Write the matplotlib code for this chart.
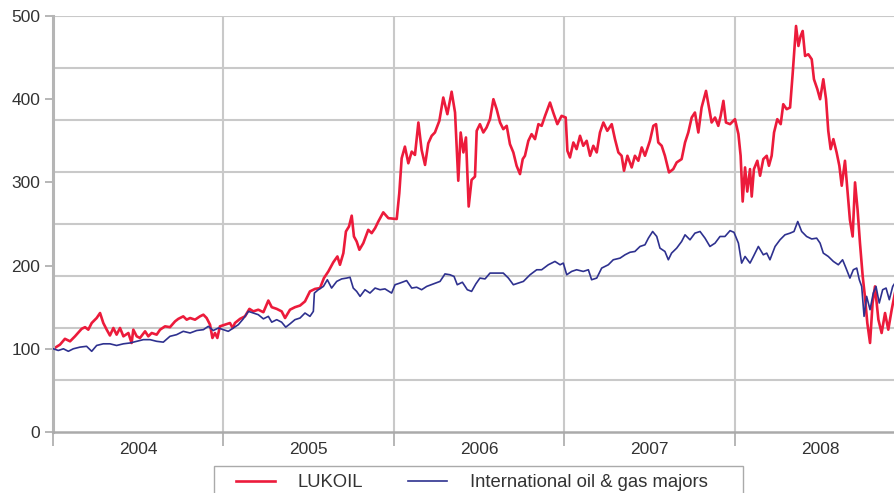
import numpy as np
import matplotlib
matplotlib.use("Agg")
from matplotlib import pyplot as plt
from matplotlib.patches import Rectangle
from matplotlib.ticker import FixedLocator, NullFormatter

# dates as decimal years, values indexed to 100 at start of 2004
lukoil_t = [2004.002, 2004.041, 2004.070, 2004.100, 2004.129, 2004.168, 2004.188, 2004.207, 2004.227, 2004.256,
            2004.276, 2004.295, 2004.315, 2004.334, 2004.354, 2004.373, 2004.393, 2004.413, 2004.442, 2004.461,
            2004.471, 2004.491, 2004.510, 2004.540, 2004.559, 2004.579, 2004.608, 2004.628, 2004.657, 2004.686,
            2004.716, 2004.735, 2004.764, 2004.784, 2004.804, 2004.833, 2004.862, 2004.882, 2004.901, 2004.921,
            2004.935, 2004.950, 2004.964, 2004.979, 2005.009, 2005.038, 2005.054, 2005.067, 2005.097, 2005.126,
            2005.152, 2005.175, 2005.204, 2005.234, 2005.263, 2005.283, 2005.312, 2005.341, 2005.361, 2005.390,
            2005.419, 2005.449, 2005.478, 2005.507, 2005.537, 2005.566, 2005.589, 2005.615, 2005.644, 2005.668,
            2005.683, 2005.703, 2005.718, 2005.736, 2005.752, 2005.765, 2005.781, 2005.797, 2005.820, 2005.849,
            2005.869, 2005.889, 2005.908, 2005.937, 2005.967, 2006.016, 2006.031, 2006.045, 2006.064, 2006.084,
            2006.104, 2006.123, 2006.143, 2006.162, 2006.182, 2006.201, 2006.221, 2006.240, 2006.266, 2006.289,
            2006.313, 2006.338, 2006.358, 2006.377, 2006.391, 2006.407, 2006.422, 2006.438, 2006.455, 2006.475,
            2006.485, 2006.504, 2006.524, 2006.543, 2006.563, 2006.583, 2006.602, 2006.622, 2006.641, 2006.661,
            2006.680, 2006.700, 2006.719, 2006.739, 2006.755, 2006.768, 2006.788, 2006.807, 2006.827, 2006.847,
            2006.866, 2006.886, 2006.915, 2006.934, 2006.958, 2006.983, 2007.007, 2007.017, 2007.032, 2007.052,
            2007.071, 2007.091, 2007.110, 2007.130, 2007.150, 2007.169, 2007.189, 2007.208, 2007.228, 2007.251,
            2007.277, 2007.296, 2007.316, 2007.335, 2007.349, 2007.369, 2007.394, 2007.413, 2007.433, 2007.453,
            2007.472, 2007.501, 2007.521, 2007.537, 2007.550, 2007.570, 2007.589, 2007.613, 2007.638, 2007.658,
            2007.687, 2007.707, 2007.726, 2007.746, 2007.765, 2007.785, 2007.804, 2007.830, 2007.844, 2007.863,
            2007.883, 2007.902, 2007.916, 2007.932, 2007.947, 2007.971, 2008.000, 2008.020, 2008.033, 2008.045,
            2008.059, 2008.072, 2008.088, 2008.098, 2008.111, 2008.131, 2008.147, 2008.166, 2008.186, 2008.199,
            2008.215, 2008.229, 2008.248, 2008.268, 2008.283, 2008.303, 2008.323, 2008.338, 2008.358, 2008.372,
            2008.385, 2008.397, 2008.411, 2008.430, 2008.450, 2008.463, 2008.483, 2008.499, 2008.518, 2008.534,
            2008.547, 2008.561, 2008.577, 2008.596, 2008.612, 2008.626, 2008.645, 2008.659, 2008.674, 2008.690,
            2008.704, 2008.719, 2008.733, 2008.749, 2008.762, 2008.776, 2008.792, 2008.807, 2008.821, 2008.841,
            2008.860, 2008.880, 2008.899, 2008.919, 2008.938]
lukoil_v = [100, 105, 112, 109, 115, 124, 126, 123, 131, 137,
            143, 131, 123, 116, 125, 117, 125, 115, 119, 107,
            123, 115, 113, 121, 115, 119, 117, 123, 127, 126,
            133, 136, 139, 135, 137, 135, 139, 141, 137, 129,
            113, 119, 113, 127, 129, 131, 125, 131, 136, 139,
            148, 145, 147, 144, 158, 150, 148, 145, 137, 147,
            150, 152, 157, 169, 172, 173, 185, 193, 204, 211,
            201, 215, 241, 247, 260, 235, 229, 219, 227, 243,
            239, 245, 253, 264, 257, 256, 287, 329, 343, 323,
            337, 333, 372, 339, 321, 347, 356, 360, 374, 402,
            382, 409, 384, 302, 360, 336, 354, 271, 303, 307,
            362, 370, 360, 366, 376, 400, 388, 372, 364, 368,
            346, 336, 320, 310, 328, 332, 350, 358, 352, 370,
            368, 380, 396, 384, 370, 380, 378, 338, 330, 348,
            340, 356, 344, 350, 332, 344, 336, 360, 372, 362,
            370, 352, 336, 332, 314, 332, 318, 332, 326, 342,
            332, 350, 368, 370, 348, 344, 332, 312, 316, 324,
            328, 348, 360, 378, 384, 360, 390, 410, 394, 372,
            378, 368, 380, 398, 372, 370, 376, 358, 332, 277,
            318, 289, 316, 283, 316, 326, 308, 328, 332, 320,
            332, 360, 376, 370, 394, 388, 390, 430, 488, 464,
            476, 482, 452, 454, 448, 424, 412, 400, 424, 400,
            362, 340, 352, 336, 320, 296, 326, 292, 255, 235,
            300, 267, 227, 187, 163, 131, 107, 155, 175, 135,
            119, 143, 123, 147, 167]

majors_t = [2004.002, 2004.031, 2004.061, 2004.090, 2004.119, 2004.158, 2004.197, 2004.227, 2004.256, 2004.295,
            2004.334, 2004.373, 2004.413, 2004.452, 2004.491, 2004.530, 2004.569, 2004.608, 2004.647, 2004.686,
            2004.725, 2004.764, 2004.804, 2004.843, 2004.882, 2004.911, 2004.940, 2004.970, 2004.999, 2005.028,
            2005.058, 2005.087, 2005.116, 2005.146, 2005.175, 2005.204, 2005.234, 2005.263, 2005.283, 2005.312,
            2005.341, 2005.365, 2005.390, 2005.419, 2005.449, 2005.478, 2005.507, 2005.527, 2005.533, 2005.556,
            2005.586, 2005.609, 2005.634, 2005.664, 2005.693, 2005.722, 2005.742, 2005.761, 2005.781, 2005.801,
            2005.830, 2005.859, 2005.889, 2005.918, 2005.947, 2005.986, 2006.006, 2006.035, 2006.074, 2006.104,
            2006.133, 2006.162, 2006.192, 2006.231, 2006.270, 2006.299, 2006.328, 2006.352, 2006.371, 2006.401,
            2006.430, 2006.455, 2006.480, 2006.504, 2006.534, 2006.563, 2006.602, 2006.641, 2006.671, 2006.700,
            2006.729, 2006.759, 2006.798, 2006.837, 2006.866, 2006.905, 2006.944, 2006.974, 2006.993, 2007.013,
            2007.042, 2007.071, 2007.110, 2007.140, 2007.159, 2007.189, 2007.218, 2007.257, 2007.286, 2007.326,
            2007.355, 2007.384, 2007.413, 2007.443, 2007.472, 2007.492, 2007.517, 2007.541, 2007.560, 2007.589,
            2007.609, 2007.628, 2007.658, 2007.687, 2007.707, 2007.736, 2007.765, 2007.795, 2007.824, 2007.853,
            2007.883, 2007.912, 2007.941, 2007.971, 2007.994, 2008.020, 2008.039, 2008.059, 2008.088, 2008.108,
            2008.137, 2008.166, 2008.186, 2008.205, 2008.235, 2008.264, 2008.293, 2008.323, 2008.346, 2008.368,
            2008.391, 2008.420, 2008.450, 2008.479, 2008.499, 2008.518, 2008.547, 2008.577, 2008.606, 2008.631,
            2008.651, 2008.674, 2008.694, 2008.714, 2008.729, 2008.743, 2008.757, 2008.772, 2008.792, 2008.811,
            2008.827, 2008.846, 2008.866, 2008.886, 2008.905, 2008.925, 2008.938]
majors_v = [100, 98, 100, 97, 100, 102, 103, 97, 104, 106,
            106, 104, 106, 107, 109, 111, 111, 109, 108, 115,
            117, 121, 119, 122, 123, 127, 122, 125, 123, 121,
            125, 129, 136, 145, 143, 141, 136, 139, 132, 135,
            132, 126, 130, 135, 137, 143, 139, 145, 167, 171,
            175, 183, 173, 181, 184, 185, 186, 173, 169, 163,
            171, 167, 173, 171, 172, 167, 177, 179, 182, 173,
            174, 171, 175, 178, 181, 190, 189, 187, 177, 180,
            171, 169, 178, 185, 184, 191, 191, 191, 185, 177,
            179, 181, 189, 195, 195, 201, 205, 201, 203, 189,
            193, 195, 193, 195, 183, 185, 197, 201, 207, 209,
            213, 216, 217, 223, 225, 233, 241, 235, 221, 217,
            207, 215, 221, 229, 237, 231, 239, 241, 233, 223,
            227, 235, 235, 242, 240, 227, 203, 211, 203, 211,
            223, 213, 215, 207, 223, 231, 237, 239, 241, 253,
            241, 235, 232, 233, 227, 215, 211, 205, 201, 207,
            197, 185, 195, 197, 183, 175, 139, 163, 147, 167,
            175, 155, 171, 173, 159, 175, 179]

years = [2004, 2005, 2006, 2007, 2008]
y_labels = [0, 100, 200, 300, 400, 500]

plt.rcParams['font.family'] = ['Liberation Sans', 'DejaVu Sans']

fig = plt.figure(figsize=(8.95, 4.93), dpi=100)
ax = fig.add_axes([53 / 895, 1 - 432 / 493, 1 - 53 / 895, (432 - 16) / 493])

grid_col = '#c9c9c9'
# horizontal grid every 62.5, labels every 100
for g in np.arange(62.5, 501, 62.5):
    ax.axhline(g, color=grid_col, lw=1.5, zorder=0)
for yr in years[1:]:
    ax.axvline(yr, color=grid_col, lw=1.5, zorder=0)

ax.plot(lukoil_t, lukoil_v, color='#ec1b3b', lw=1.9, label='LUKOIL', zorder=2)
ax.plot(majors_t, majors_v, color='#2e318f', lw=1.2, label='International oil & gas majors', zorder=3)

ax.set_xlim(2004, 2004 + 842 / 170.5)
ax.set_ylim(0, 500)

ax.yaxis.set_major_locator(FixedLocator(y_labels))
ax.tick_params(axis='y', direction='out', length=6, width=1.2, color='#aaaaaa',
               labelsize=12.5, labelcolor='#333333', pad=3)

ax.xaxis.set_major_locator(FixedLocator(years))
ax.xaxis.set_major_formatter(NullFormatter())
ax.xaxis.set_minor_locator(FixedLocator([y + 0.5 for y in years]))
ax.set_xticklabels([str(y) for y in years], minor=True)
ax.tick_params(axis='x', which='major', direction='out', length=10, width=1.2, color='#aaaaaa')
ax.tick_params(axis='x', which='minor', length=0, labelsize=12.5, labelcolor='#333333', pad=7)

for s in ['top', 'right']:
    ax.spines[s].set_visible(False)
ax.spines['left'].set_color('#b5b5b5')
ax.spines['left'].set_linewidth(2.2)
ax.spines['bottom'].set_color('#aaaaaa')
ax.spines['bottom'].set_linewidth(1.8)

# legend without its own frame; box drawn separately so it runs off the bottom edge
leg = fig.legend(loc='upper left', bbox_to_anchor=(236 / 895, 1 - 474 / 493), ncol=2,
                 fontsize=13.3, frameon=False, handlelength=2.1,
                 handletextpad=1.25, columnspacing=2.4, borderpad=0, borderaxespad=0)
for t in leg.get_texts():
    t.set_color('#333333')
fig.patches.append(Rectangle((214 / 895, -0.05), (743 - 214) / 895, 0.05 + 1 - 466 / 493,
                             transform=fig.transFigure, fill=False, edgecolor='#aaaaaa', lw=1.0))

fig.savefig('out.png', dpi=100)
